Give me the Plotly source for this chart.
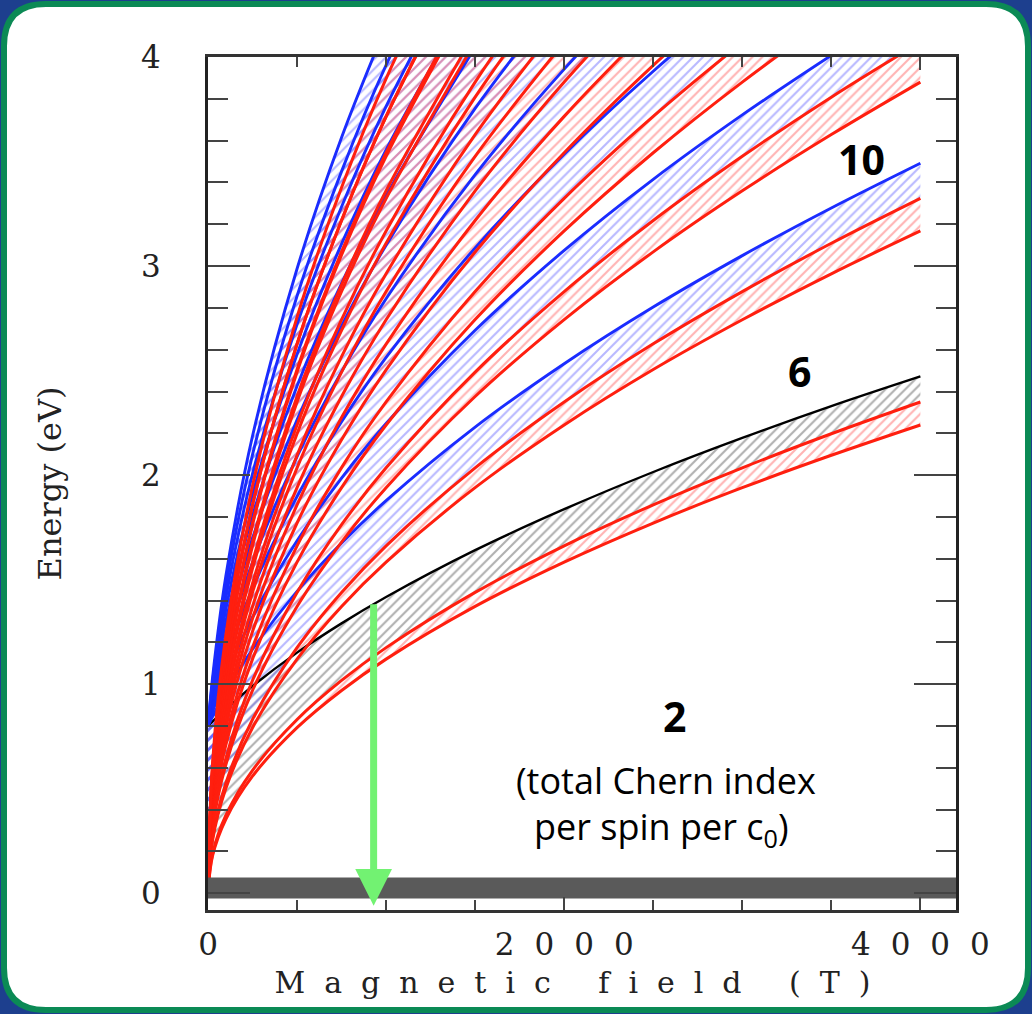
import plotly.graph_objects as go

# ---------------------------------------------------------------------------
# Landau-level band edges (eV) sampled on a common magnetic-field grid (T).
# Rows are levels n = 1..11; a row stops once the edge has left the 4 eV frame.
# ---------------------------------------------------------------------------
field_T = [0, 25, 100, 250, 500, 750, 1000, 1500, 2000, 2500, 3000, 3500, 4000]
level_index = [1, 2, 3, 4, 5, 6, 7, 8, 9, 10, 11]

red_lower_eV = [
    [0, 0.177, 0.354, 0.560, 0.792, 0.970, 1.120, 1.372, 1.584, 1.771, 1.940, 2.095, 2.240],
    [0, 0.250, 0.501, 0.792, 1.120, 1.372, 1.584, 1.940, 2.240, 2.505, 2.743, 2.963, 3.168],
    [0, 0.307, 0.614, 0.970, 1.372, 1.680, 1.940, 2.376, 2.744, 3.068, 3.360, 3.629, 3.880],
    [0, 0.354, 0.708, 1.120, 1.584, 1.940, 2.240, 2.744, 3.168, 3.542, 3.880, 4.191],
    [0, 0.396, 0.792, 1.252, 1.771, 2.169, 2.504, 3.067, 3.542, 3.960, 4.338],
    [0, 0.434, 0.868, 1.372, 1.940, 2.376, 2.743, 3.360, 3.880, 4.338],
    [0, 0.469, 0.937, 1.482, 2.095, 2.567, 2.963, 3.629, 4.191],
    [0, 0.501, 1.002, 1.584, 2.240, 2.744, 3.168, 3.880, 4.480],
    [0, 0.531, 1.063, 1.680, 2.376, 2.910, 3.360, 4.115],
    [0, 0.560, 1.120, 1.771, 2.505, 3.068, 3.542, 4.338],
    [0, 0.587, 1.175, 1.857, 2.627, 3.218, 3.715, 4.550],
]

red_upper_eV = [
    [0, 0.186, 0.372, 0.588, 0.831, 1.018, 1.175, 1.439, 1.662, 1.858, 2.035, 2.198, 2.350],
    [0, 0.263, 0.526, 0.831, 1.175, 1.439, 1.662, 2.035, 2.350, 2.628, 2.878, 3.109, 3.324],
    [0, 0.322, 0.644, 1.018, 1.439, 1.763, 2.035, 2.493, 2.878, 3.218, 3.525, 3.808, 4.071],
    [0, 0.372, 0.743, 1.175, 1.662, 2.036, 2.350, 2.878, 3.324, 3.716, 4.070],
    [0, 0.415, 0.831, 1.314, 1.858, 2.276, 2.627, 3.218, 3.716, 4.155],
    [0, 0.455, 0.910, 1.439, 2.035, 2.493, 2.878, 3.525, 4.070],
    [0, 0.492, 0.983, 1.554, 2.198, 2.693, 3.109, 3.808, 4.397],
    [0, 0.526, 1.051, 1.662, 2.350, 2.879, 3.323, 4.071],
    [0, 0.557, 1.115, 1.763, 2.493, 3.053, 3.525, 4.318],
    [0, 0.588, 1.175, 1.858, 2.628, 3.219, 3.716, 4.551],
    [0, 0.616, 1.233, 1.949, 2.756, 3.376, 3.897, 4.773],
]

# upper sub-band edges start from the 0.8 eV gap; level 1 is drawn in black
upper_edge_eV = [
    [0.800, 0.821, 0.881, 0.991, 1.151, 1.291, 1.417, 1.641, 1.837, 2.015, 2.178, 2.330, 2.472],
    [0.800, 0.844, 0.964, 1.167, 1.444, 1.675, 1.878, 2.230, 2.533, 2.804, 3.050, 3.278, 3.492],
    [0.800, 0.866, 1.040, 1.320, 1.686, 1.986, 2.247, 2.693, 3.075, 3.415, 3.723, 4.008],
    [0.800, 0.888, 1.110, 1.457, 1.898, 2.255, 2.563, 3.087, 3.535, 3.932, 4.292],
    [0.800, 0.909, 1.177, 1.582, 2.089, 2.495, 2.844, 3.437, 3.942, 4.389],
    [0.800, 0.930, 1.240, 1.698, 2.264, 2.714, 3.100, 3.754, 4.310],
    [0.800, 0.950, 1.300, 1.806, 2.426, 2.917, 3.336, 4.046],
    [0.800, 0.970, 1.357, 1.908, 2.578, 3.106, 3.556, 4.319],
    [0.800, 0.989, 1.412, 2.006, 2.721, 3.284, 3.764, 4.575],
    [0.800, 1.008, 1.465, 2.098, 2.857, 3.453, 3.961, 4.818],
    [0.800, 1.027, 1.516, 2.187, 2.987, 3.615, 4.148],
]

# zero-energy mode and the marked field
zero_band_field_T = [0, 4200]
zero_band_low_eV = -0.025
zero_band_high_eV = 0.075

arrow_field_T = 930
arrow_top_eV = 1.39
arrow_tip_eV = -0.06

# Chern-index labels of the gaps
chern_labels = ["2", "6", "10"]
chern_label_field_T = [2620, 3320, 3670]
chern_label_eV = [0.85, 2.50, 3.51]
note_lines = ["(total Chern index", "per spin per c<sub>0</sub>)"]
note_field_T = [2572, 2549]
note_eV = [0.54, 0.31]

x_tick_vals = [0, 2000, 4000]
y_tick_vals = [0, 1, 2, 3, 4]

# ---------------------------------------------------------------------------
RED = "#ff1f0f"
BLUE = "#1a2cff"
BLACK = "#000000"
GREEN = "#72f272"
HATCH_RED = "rgba(255,95,95,0.95)"
HATCH_BLUE = "rgba(105,105,255,0.95)"
HATCH_GRAY = "rgba(80,80,80,0.9)"
CLEAR = "rgba(0,0,0,0)"

W, H = 1032, 1014
PLOT_L, PLOT_R, PLOT_T, PLOT_B = 208, 956, 57, 910


def paper(px, py):
    return (px - PLOT_L) / (PLOT_R - PLOT_L), (PLOT_B - py) / (PLOT_B - PLOT_T)


def hatch(color):
    return dict(shape="/", fgcolor=color, bgcolor=CLEAR, size=7, solidity=0.3)


fig = go.Figure()

# hatched sub-bands: red between the two red edges, blue/gray above them
for i, n in enumerate(level_index):
    lo, hi, top = red_lower_eV[i], red_upper_eV[i], upper_edge_eV[i]
    fig.add_trace(go.Scatter(x=field_T[:len(lo)], y=lo, mode="lines",
                             line=dict(width=0, shape="spline"),
                             hoverinfo="skip", showlegend=False))
    fig.add_trace(go.Scatter(x=field_T[:len(hi)], y=hi, mode="lines",
                             line=dict(width=0, shape="spline"),
                             fill="tonexty", fillcolor=CLEAR,
                             fillpattern=hatch(HATCH_RED),
                             hoverinfo="skip", showlegend=False))
    fig.add_trace(go.Scatter(x=field_T[:len(top)], y=top, mode="lines",
                             line=dict(width=0, shape="spline"),
                             fill="tonexty", fillcolor=CLEAR,
                             fillpattern=hatch(HATCH_GRAY if n == 1 else HATCH_BLUE),
                             hoverinfo="skip", showlegend=False))

# upper edges (black for n = 1, blue otherwise)
for i, n in enumerate(level_index):
    top = upper_edge_eV[i]
    fig.add_trace(go.Scatter(x=field_T[:len(top)], y=top, mode="lines",
                             line=dict(width=2.4 if n == 1 else 2.9,
                                       color=BLACK if n == 1 else BLUE, shape="spline"),
                             hoverinfo="skip", showlegend=False))

# red edges
for i, n in enumerate(level_index):
    for edge in (red_lower_eV[i], red_upper_eV[i]):
        fig.add_trace(go.Scatter(x=field_T[:len(edge)], y=edge, mode="lines",
                                 line=dict(width=3.0, color=RED, shape="spline"),
                                 hoverinfo="skip", showlegend=False))

# zero-energy band
fig.add_trace(go.Scatter(x=zero_band_field_T, y=[zero_band_low_eV] * 2, mode="lines",
                         line=dict(width=0), hoverinfo="skip", showlegend=False))
fig.add_trace(go.Scatter(x=zero_band_field_T, y=[zero_band_high_eV] * 2, mode="lines",
                         line=dict(width=0), fill="tonexty", fillcolor="#5a5a5a",
                         hoverinfo="skip", showlegend=False))

annotations = [
    dict(x=arrow_field_T, y=arrow_tip_eV, ax=arrow_field_T, ay=arrow_top_eV,
         xref="x", yref="y", axref="x", ayref="y", text="", showarrow=True,
         arrowhead=2, arrowsize=1.05, arrowwidth=7, arrowcolor=GREEN, standoff=0),
]
for lab, bx, ey in zip(chern_labels, chern_label_field_T, chern_label_eV):
    annotations.append(dict(x=bx, y=ey, xref="x", yref="y", text=f"<b>{lab}</b>",
                            showarrow=False,
                            font=dict(family="Open Sans", size=41, color="#000")))
for line, bx, ey in zip(note_lines, note_field_T, note_eV):
    annotations.append(dict(x=bx, y=ey, xref="x", yref="y", text=line,
                            showarrow=False,
                            font=dict(family="Open Sans", size=36, color="#000")))

# rounded white panel with a green rim
L, T = paper(4, 4)
R, B = paper(W - 4, H - 4)
ru = 42 / (PLOT_R - PLOT_L)
rv = 42 / (PLOT_B - PLOT_T)
panel_path = (f"M{L + ru},{T} L{R - ru},{T} Q{R},{T} {R},{T - rv} "
              f"L{R},{B + rv} Q{R},{B} {R - ru},{B} L{L + ru},{B} "
              f"Q{L},{B} {L},{B + rv} L{L},{T - rv} Q{L},{T} {L + ru},{T} Z")

serif = "DejaVu Serif"


def spaced(s, px):
    return f'<span style="letter-spacing:{px}px">{s}</span>'


fig.update_layout(
    width=W, height=H,
    margin=dict(l=PLOT_L, r=W - PLOT_R, t=PLOT_T, b=H - PLOT_B, pad=0),
    paper_bgcolor="#1d3f8e",
    plot_bgcolor=CLEAR,
    showlegend=False,
    annotations=annotations,
    shapes=[dict(type="path", path=panel_path, xref="paper", yref="paper",
                 fillcolor="white", line=dict(color="#0b8a55", width=6), layer="below")],
    xaxis=dict(
        range=[0, 4200], showgrid=False, zeroline=False,
        showline=True, linecolor="#333", linewidth=2.5, mirror="ticks",
        ticks="inside", ticklen=13, tickwidth=2, tickcolor="#444",
        tickvals=x_tick_vals, ticktext=[spaced(v, 20) for v in x_tick_vals],
        ticklabelstandoff=5, ticklabelshift=10,
        tickfont=dict(family=serif, size=31, color="#222"),
        minor=dict(dtick=500, ticks="inside", ticklen=10, tickwidth=2, tickcolor="#444"),
        title=dict(text=spaced("Magnetic field (T)", 19), standoff=12,
                   font=dict(family=serif, size=30, color="#222")),
        automargin=False,
    ),
    yaxis=dict(
        range=[-0.08, 4.0], showgrid=False, zeroline=False,
        showline=True, linecolor="#222", linewidth=3, mirror="ticks",
        ticks="inside", ticklen=42, tickwidth=2, tickcolor="#444",
        tickvals=y_tick_vals, ticktext=[str(v) for v in y_tick_vals],
        ticklabelstandoff=38,
        tickfont=dict(family=serif, size=31, color="#222"),
        minor=dict(dtick=0.2, ticks="inside", ticklen=20, tickwidth=2, tickcolor="#444"),
        title=dict(text="Energy (eV)", standoff=70,
                   font=dict(family=serif, size=32, color="#222")),
        automargin=False,
    ),
)

fig.write_html("out.html")
